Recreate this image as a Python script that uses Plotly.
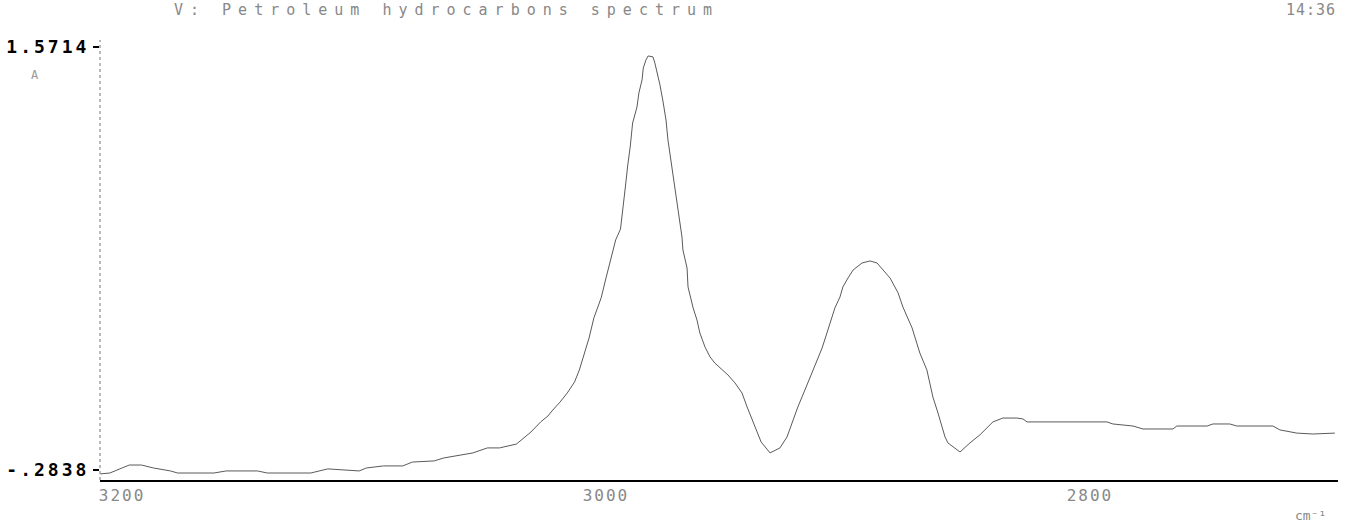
import plotly.graph_objects as go

# wavenumber (cm-1)
wavenumber = [3209, 3205, 3200, 3197, 3192, 3187, 3180, 3177, 3162, 3157, 3144, 3140, 3122, 3115,
              3102, 3099, 3092, 3084, 3080, 3071, 3067, 3059, 3055, 3049, 3044, 3037, 3034, 3031,
              3027, 3024, 3022, 3019, 3016, 3013, 3011, 3009, 3007, 3005, 3002, 3000, 2998, 2996,
              2994, 2993, 2992, 2991, 2990, 2989, 2987.2, 2986.4, 2985.1, 2984.6, 2983.5, 2982.6,
              2980.6, 2979.8, 2978.5, 2977.7, 2976.4, 2975.2, 2974.4, 2973.1, 2971.9, 2970.7,
              2969.8, 2968.6, 2968.2, 2966.5, 2966.1, 2964.0, 2962.4, 2961.2, 2959.1, 2957.0,
              2955.0, 2952.1, 2949.6, 2946.7, 2943.8, 2941.7, 2939.3, 2937.2, 2935.9, 2932.2,
              2928.1, 2925.2, 2923.1, 2920.7, 2917.8, 2914.9, 2912.8, 2910.7, 2908.7, 2906.6,
              2905.4, 2903.3, 2902.1, 2900.0, 2897.9, 2894.2, 2890.9, 2888.0, 2885.5, 2882.6,
              2879.3, 2877.3, 2873.5, 2872.3, 2870.3, 2867.4, 2866.1, 2864.9, 2862.8, 2861.2,
              2859.9, 2858.7, 2853.7, 2849.6, 2845.5, 2840.1, 2836.0, 2830.2, 2827.7, 2826.0,
              2793.0, 2790.5, 2782.2, 2778.1, 2765.7, 2764.1, 2751.6, 2749.2, 2742.2, 2739.3,
              2724.4, 2721.5, 2714.5, 2707.9, 2698.8]

signal = [-0.301, -0.297, -0.275, -0.262, -0.262, -0.275, -0.288, -0.297, -0.297, -0.288, -0.288,
          -0.297, -0.297, -0.279, -0.288, -0.275, -0.266, -0.266, -0.249, -0.244, -0.231, -0.218,
          -0.209, -0.187, -0.187, -0.170, -0.143, -0.117, -0.073, -0.047, -0.021, 0.014, 0.054,
          0.102, 0.155, 0.220, 0.295, 0.383, 0.471, 0.558, 0.646, 0.725, 0.773, 0.856, 0.957,
          1.054, 1.133, 1.238, 1.308, 1.370, 1.427, 1.479, 1.514, 1.532, 1.528, 1.501, 1.449,
          1.405, 1.330, 1.251, 1.164, 1.067, 0.975, 0.887, 0.813, 0.738, 0.681, 0.602, 0.519,
          0.427, 0.374, 0.317, 0.256, 0.212, 0.185, 0.155, 0.133, 0.098, 0.054, -0.007, -0.073,
          -0.122, -0.161, -0.209, -0.187, -0.139, -0.078, -0.007, 0.067, 0.142, 0.198, 0.251,
          0.317, 0.383, 0.427, 0.475, 0.519, 0.558, 0.593, 0.624, 0.633, 0.624, 0.593, 0.558,
          0.493, 0.431, 0.339, 0.300, 0.229, 0.155, 0.098, 0.036, -0.034, -0.095, -0.139,
          -0.165, -0.205, -0.165, -0.130, -0.073, -0.056, -0.056, -0.060, -0.073, -0.073,
          -0.082, -0.091, -0.104, -0.104, -0.091, -0.091, -0.082, -0.082, -0.091, -0.091,
          -0.108, -0.122, -0.126, -0.122]

x_ticks = [3200, 3000, 2800]
y_ticks = [-0.2838, 1.5714]
y_tick_text = ["-.2838", "1.5714"]

title_text = "V: Petroleum hydrocarbons spectrum"
time_text = "14:36"
x_unit = "cm⁻¹"
y_unit = "A"

MONO = "DejaVu Sans Mono"

fig = go.Figure()
fig.add_trace(go.Scatter(x=wavenumber, y=signal, mode="lines",
                         line=dict(color="#5a5a5a", width=1), hoverinfo="skip",
                         showlegend=False))

fig.update_layout(
    width=1345, height=531,
    margin=dict(l=100, r=7, t=40, b=51),
    paper_bgcolor="white", plot_bgcolor="white",
    xaxis=dict(range=[3209.1, 2697.5], tickvals=x_ticks,
               ticktext=['<span style="letter-spacing:2px">%d</span>' % v for v in x_ticks],
               showgrid=False, zeroline=False, showline=True, linecolor="black",
               linewidth=2, ticks="", ticklen=0,
               tickfont=dict(family=MONO, size=16, color="#888888")),
    yaxis=dict(range=[-0.3277, 1.602], tickvals=y_ticks,
               ticktext=['<span style="letter-spacing:3px"><b>%s</b></span>' % t for t in y_tick_text],
               showgrid=False, zeroline=False, showline=False,
               ticks="outside", ticklen=6, tickcolor="black", tickwidth=2,
               tickfont=dict(family=MONO, size=18, color="black")),
    shapes=[dict(type="line", xref="paper", yref="paper", x0=0, x1=0, y0=0, y1=1,
                 line=dict(color="#777777", width=1, dash="dot"))],
    annotations=[
        dict(text='<span style="letter-spacing:7px">%s</span>' % title_text,
             xref="paper", yref="paper", x=(172 - 100) / 1238, y=1 + 30 / 440,
             xanchor="left", yanchor="middle", showarrow=False,
             font=dict(family=MONO, size=15, color="#888888")),
        dict(text='<span style="letter-spacing:1px">%s</span>' % time_text,
             xref="paper", yref="paper", x=1, y=1 + 30 / 440,
             xanchor="right", yanchor="middle", showarrow=False,
             font=dict(family=MONO, size=15, color="#888888")),
        dict(text=x_unit, xref="paper", yref="paper", x=(1310 - 100) / 1238, y=-35 / 440,
             xanchor="center", yanchor="middle", showarrow=False,
             font=dict(family=MONO, size=13, color="#888888")),
        dict(text=y_unit, xref="paper", yref="paper", x=(35 - 100) / 1238, y=1 - 35 / 440,
             xanchor="center", yanchor="middle", showarrow=False,
             font=dict(family=MONO, size=12, color="#999999")),
    ],
)

fig.write_html("out.html", config={"displayModeBar": False},
               post_script="document.body.style.margin='0px';")
